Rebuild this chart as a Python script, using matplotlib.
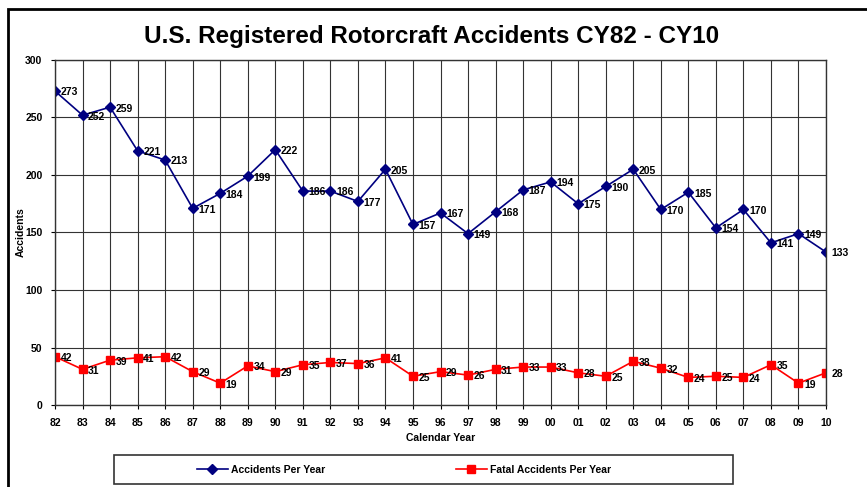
import matplotlib
matplotlib.use('AGG')
import matplotlib.pyplot as plt
from matplotlib.patches import Rectangle

plt.rcParams['font.family'] = ['Liberation Sans', 'DejaVu Sans']

years = ['82', '83', '84', '85', '86', '87', '88', '89', '90', '91', '92', '93', '94', '95',
         '96', '97', '98', '99', '00', '01', '02', '03', '04', '05', '06', '07', '08', '09', '10']
accidents = [273, 252, 259, 221, 213, 171, 184, 199, 222, 186, 186, 177, 205, 157, 167,
             149, 168, 187, 194, 175, 190, 205, 170, 185, 154, 170, 141, 149, 133]
fatal = [42, 31, 39, 41, 42, 29, 19, 34, 29, 35, 37, 36, 41, 25, 29,
         26, 31, 33, 33, 28, 25, 38, 32, 24, 25, 24, 35, 19, 28]

fig = plt.figure(figsize=(8.67, 4.87), dpi=100)
ax = fig.add_axes([55/867, 1-405/487, (826-55)/867, (405-60)/487])

x = list(range(len(years)))
l1, = ax.plot(x, accidents, color='#000080', marker='D', markersize=5, lw=1.2,
              label='Accidents Per Year')
l2, = ax.plot(x, fatal, color='#ff0000', marker='s', markersize=5.5, lw=1.2,
              label='Fatal Accidents Per Year')

# data labels to the right of each point
for xi, a, f in zip(x, accidents, fatal):
    ax.annotate(str(a), (xi, a), xytext=(4, -1), textcoords='offset points',
                ha='left', va='center', fontsize=7.5, fontweight='bold')
    ax.annotate(str(f), (xi, f), xytext=(4, -1), textcoords='offset points',
                ha='left', va='center', fontsize=7.5, fontweight='bold')

ax.set_xlim(0, len(years) - 1)
ax.set_ylim(0, 300)
ax.set_yticks(range(0, 301, 50))
ax.set_xticks(x)
ax.set_xticklabels(years)
ax.tick_params(labelsize=7.5, length=3, width=0.8, direction='out', pad=6)
for lab in ax.get_xticklabels() + ax.get_yticklabels():
    lab.set_fontweight('bold')
ax.grid(True, color='#333333', lw=0.8)
ax.set_axisbelow(True)
for s in ax.spines.values():
    s.set_color('#333333')
    s.set_linewidth(1)

ax.set_xlabel('Calendar Year', fontsize=7.5, fontweight='bold', labelpad=4)
ax.set_ylabel('Accidents', fontsize=7.5, fontweight='bold', labelpad=0)

fig.text(432/867, 1-36/487, 'U.S. Registered Rotorcraft Accidents CY82 - CY10',
         ha='center', va='center', fontsize=17.5, fontweight='bold')

# legend box
fig.patches.append(Rectangle((114/867, 1-484/487), (733-114)/867, (484-455)/487,
                             transform=fig.transFigure, fill=False, ec='#333333', lw=1.2))
fig.legend(handles=[l1, l2], loc='center', bbox_to_anchor=(404/867, 1-470/487),
           ncol=2, frameon=False, prop={'weight': 'bold', 'size': 7.5},
           columnspacing=12.5, handlelength=3, handletextpad=0.3)

# outer figure border
fig.patches.append(Rectangle((8/867, -0.05), 1.1, 1 - 9/487 + 0.05,
                             transform=fig.transFigure, fill=False, ec='black', lw=2))

plt.savefig('out.png', dpi=100)
